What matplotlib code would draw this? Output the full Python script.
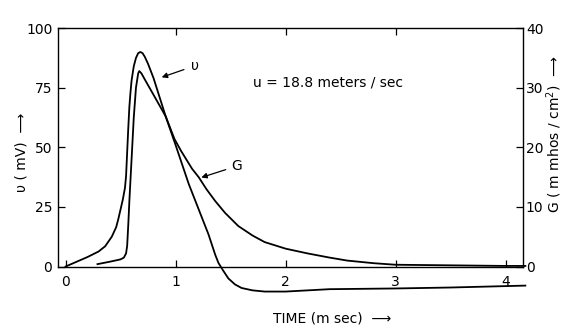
import matplotlib
matplotlib.use("Agg")
import matplotlib.pyplot as plt

# membrane potential v (mV) vs time (ms)
v_time = [0, 0.1, 0.2, 0.3, 0.36, 0.42, 0.46, 0.48, 0.5, 0.52, 0.54, 0.55, 0.56, 0.57,
          0.58, 0.59, 0.6, 0.62, 0.64, 0.66, 0.68, 0.7, 0.72, 0.75, 0.8, 0.91, 1.0,
          1.12, 1.3, 1.36, 1.39, 1.43, 1.48, 1.54, 1.6, 1.7, 1.81, 2.0, 2.4, 3.0, 3.5, 4.18]
v_vals = [0, 2, 4, 6.3, 8.5, 12.5, 16.5, 20, 24, 28, 33, 38, 48, 58,
          67, 73, 78, 84, 87.5, 89.5, 90, 89.5, 88, 85, 79, 63, 51,
          34.6, 13.4, 5, 1.5, -1.5, -5, -7.5, -9, -10, -10.5, -10.5, -9.5, -9.2, -8.8, -8]

# conductance G (mmhos/cm2) vs time (ms)
g_time = [0.29, 0.4, 0.5, 0.53, 0.55, 0.56, 0.57, 0.58, 0.6, 0.62, 0.64, 0.66, 0.67,
          0.69, 0.72, 0.8, 0.91, 0.99, 1.05, 1.1, 1.15, 1.21, 1.28, 1.36, 1.45, 1.57,
          1.7, 1.81, 2.0, 2.2, 2.4, 2.56, 2.8, 3.0, 3.5, 4.0, 4.18]
g_vals = [0.4, 0.8, 1.2, 1.5, 2.2, 3.5, 7, 11, 18, 25, 30, 32.4, 32.8,
          32.4, 31.4, 28.8, 25.2, 21.4, 19.4, 17.9, 16.4, 15, 13, 11, 9, 6.8,
          5.2, 4.1, 3.0, 2.2, 1.5, 1.0, 0.56, 0.3, 0.2, 0.1, 0.1]

x_ticks = [0, 1, 2, 3, 4]
v_ticks = [0, 25, 50, 75, 100]
g_ticks = [0, 10, 20, 30, 40]

plt.rcParams["font.family"] = "DejaVu Sans"
fig = plt.figure(figsize=(5.73, 3.35), dpi=100)
ax = fig.add_axes([0.101, 0.119, 0.812, 0.797])
ax2 = ax.twinx()

lw = 1.3
ax.plot(v_time, v_vals, color="black", lw=lw, clip_on=False, solid_joinstyle="round")
ax2.plot(g_time, g_vals, color="black", lw=lw, clip_on=False, solid_joinstyle="round")

ax.set_xlim(-0.07, 4.16)
ax.set_ylim(-12, 100)
ax2.set_ylim(-12 * 0.4, 40)

for a in (ax, ax2):
    for s in a.spines.values():
        s.set_linewidth(1.0)
ax.spines["bottom"].set_position(("data", 0))
ax.spines["left"].set_bounds(0, 100)
ax.spines["right"].set_visible(False)
ax2.spines["left"].set_visible(False)
ax2.spines["bottom"].set_visible(False)
ax2.spines["top"].set_visible(False)
ax2.spines["right"].set_bounds(0, 40)

ax.set_xticks(x_ticks)
ax.set_yticks(v_ticks)
ax2.set_yticks(g_ticks)
ax.tick_params(axis="both", direction="in", length=5, width=0.9, labelsize=10, pad=4)
ax.tick_params(axis="x", pad=6)
ax2.tick_params(axis="y", direction="in", length=5, width=0.9, labelsize=10, pad=2)

# top ticks inward
top = ax.secondary_xaxis("top")
top.set_xticks([1, 2, 3])
top.tick_params(direction="in", length=5, width=0.9, labeltop=False)
top.spines["top"].set_visible(False)

ax.annotate("", xy=(0.85, 79), xytext=(1.1, 83),
            arrowprops=dict(arrowstyle="-|>", color="black", lw=0.9, mutation_scale=8))
ax.text(1.14, 84, "υ", fontsize=10, ha="left", va="center")
ax.annotate("", xy=(1.21, 37), xytext=(1.48, 41),
            arrowprops=dict(arrowstyle="-|>", color="black", lw=0.9, mutation_scale=8))
ax.text(1.51, 42, "G", fontsize=10, ha="left", va="center")
ax.text(1.70, 77, "u = 18.8 meters / sec", fontsize=10, ha="left", va="center")

fig.text(0.038, 1 - 152 / 335, "υ ( mV)  ⟶", rotation=90, ha="center", va="center", fontsize=10)
fig.text(0.968, 1 - 134 / 335, "G ( m mhos / cm$^2$)  ⟶", rotation=90, ha="center", va="center", fontsize=10)
fig.text(0.58, 0.05, "TIME (m sec)  ⟶", ha="center", va="center", fontsize=10)

fig.savefig("out.png", dpi=100)
